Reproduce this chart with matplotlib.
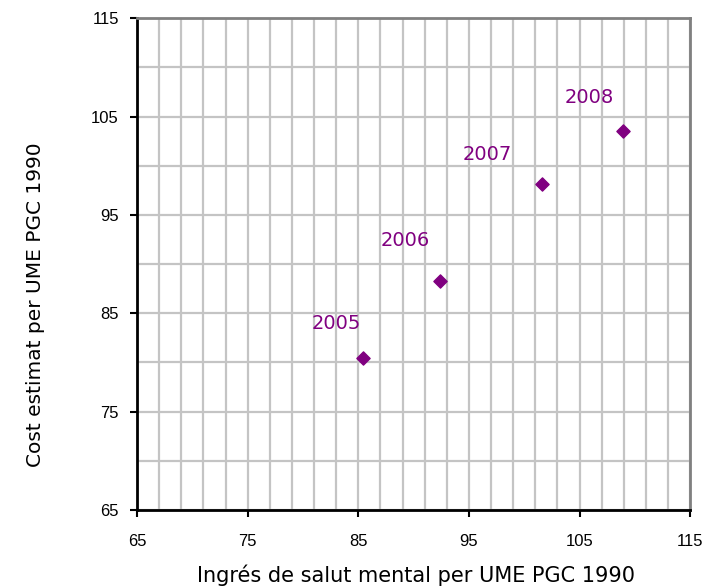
import matplotlib
matplotlib.use("Agg")
import matplotlib.pyplot as plt
import numpy as np

years = ["2005", "2006", "2007", "2008"]
ingres = [85.4, 92.4, 101.6, 108.9]
cost = [80.5, 88.3, 98.1, 103.5]
label_offsets = [(-26, 34), (-35, 40), (-55, 30), (-33, 34)]

purple = "#800080"

fig = plt.figure(figsize=(7.1, 5.86), dpi=100)
ax = fig.add_axes([0.193, 0.1297, 0.779, 0.8393])

ax.set_xlim(65, 115)
ax.set_ylim(65, 115)
ax.set_xticks(np.arange(65, 116, 10))
ax.set_yticks(np.arange(65, 116, 10))
ax.set_xticks(np.arange(65, 116, 2), minor=True)
ax.set_yticks(np.arange(65, 116, 5), minor=True)
ax.tick_params(which="minor", length=0)
ax.tick_params(which="major", direction="out", length=5, width=1.5,
               labelsize=12, pad=8)
ax.tick_params(axis="x", which="major", pad=12)
ax.grid(which="minor", color="#c4c4c4", linewidth=1.6, linestyle="-")
ax.grid(which="major", color="#c4c4c4", linewidth=1.6, linestyle="-")
ax.set_axisbelow(True)

for lab in ax.get_xticklabels() + ax.get_yticklabels():
    lab.set_family("Liberation Sans")

for s in ["left", "bottom"]:
    ax.spines[s].set_color("black")
    ax.spines[s].set_linewidth(2)
for s in ["top", "right"]:
    ax.spines[s].set_color("#808080")
    ax.spines[s].set_linewidth(2)

ax.scatter(ingres, cost, marker="D", s=45, color=purple, zorder=3)
for yr, x, y, off in zip(years, ingres, cost, label_offsets):
    ax.annotate(yr, (x, y), xytext=off, textcoords="offset pixels",
                ha="center", va="center", color=purple, fontsize=14,
                family="DejaVu Sans")

ax.set_xlabel("Ingrés de salut mental per UME PGC 1990", fontsize=15, va="center")
ax.xaxis.set_label_coords(0.504, -0.132)
ax.set_ylabel("Cost estimat per UME PGC 1990", fontsize=14.5, va="center")
ax.yaxis.set_label_coords(-0.184, 0.417)

fig.savefig("out.png", dpi=100)
